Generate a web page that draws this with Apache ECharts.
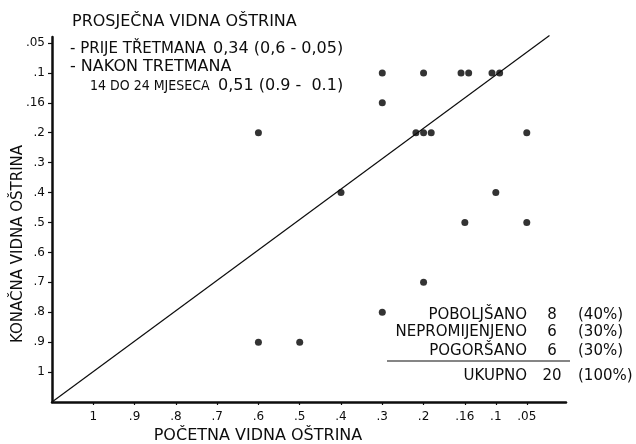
<!DOCTYPE html>
<html>
<head>
<meta charset="utf-8">
<script src="https://cdn.jsdelivr.net/npm/echarts@6/dist/echarts.min.js"></script>
<style>
html,body{margin:0;padding:0;background:#fff;}
#c{width:636px;height:444px;}
</style>
</head>
<body>
<div id="c"></div>
<script>
// Acuity tick labels (both axes run from best "1" to worst ".05")
const acuityLabels = ['1', '.9', '.8', '.7', '.6', '.5', '.4', '.3', '.2', '.16', '.1', '.05'];
// Scale position of each label along the (non-linear) axes, as drawn in the original
const xScalePos = [1, 2, 3, 4, 5, 6, 7, 8, 9, 10, 10.75, 11.5];
const yScalePos = [1, 2, 3, 4, 5, 6, 7, 8, 9, 10, 11, 12];

// Each patient: initial (POČETNA) and final (KONAČNA) visual acuity
const initialAcuity = ['.3', '.2', '.16', '.16', '.1', '.1', '.3', '.6', '.2', '.2', '.2', '.05', '.4', '.1', '.16', '.05', '.2', '.3', '.6', '.5'];
const finalAcuity   = ['.1', '.1', '.1',  '.1',  '.1', '.1', '.16', '.2', '.2', '.2', '.2', '.2', '.4', '.4', '.5', '.5', '.7', '.8', '.9', '.9'];

// Line of equality (drawn from origin to top right)
const diagonalEnd = [12.05, 12.25];

// Summary table
const outcomeLabels = ['POBOLJŠANO', 'NEPROMIJENJENO', 'POGORŠANO', 'UKUPNO'];
const outcomeCounts = ['8', '6', '6', '20'];
const outcomePct = ['(40%)', '(30%)', '(30%)', '(100%)'];

// Header text
const headerLines = [
  'PROSJEČNA VIDNA OŠTRINA',
  '- PRIJE TŘETMANA',
  '- NAKON TRETMANA',
  '14 DO 24 MJESECA'
];
const headerValues = ['0,34 (0,6 - 0,05)', '0,51 (0.9 -  0.1)'];
const xTitle = 'POČETNA VIDNA OŠTRINA';
const yTitle = 'KONAČNA VIDNA OŠTRINA';

// ---- build scatter points (identical points are spread side by side)
const xPosOf = l => xScalePos[acuityLabels.indexOf(l)];
const yPosOf = l => yScalePos[acuityLabels.indexOf(l)];
const groups = {};
initialAcuity.forEach((a, i) => {
  const k = a + '|' + finalAcuity[i];
  (groups[k] = groups[k] || []).push(i);
});
const points = [];
Object.keys(groups).forEach(k => {
  const idx = groups[k];
  const n = idx.length;
  idx.forEach((i, j) => {
    const off = (j - (n - 1) / 2) * 0.185;
    points.push([xPosOf(initialAcuity[i]) + off, yPosOf(finalAcuity[i])]);
  });
});

const FONT = '"DejaVu Sans", sans-serif';
const FONTC = '"DejaVu Sans Condensed", "DejaVu Sans", sans-serif';
const INK = '#0d0d0d';

const chart = echarts.init(document.getElementById('c'), null, {renderer: 'canvas'});

const txt = (text, x, y, font, align, extra) => Object.assign({
  type: 'text', x: x, y: y,
  style: {text: text, font: font, fill: INK, align: align || 'left', verticalAlign: 'middle'}
}, extra || {});

const graphics = [];
// header
graphics.push(txt(headerLines[0], 72, 22, '16px ' + FONT));
graphics.push(txt(headerLines[1], 70, 49, '15px ' + FONT));
graphics.push(txt(headerValues[0], 213, 49, '16px ' + FONT));
graphics.push(txt(headerLines[2], 70, 67, '16px ' + FONT));
graphics.push(txt(headerLines[3], 90, 86, '14px ' + FONTC));
graphics.push(txt(headerValues[1], 218, 86, '16px ' + FONT));
// axis titles
graphics.push(txt(xTitle, 258, 436, '16px ' + FONT, 'center'));
graphics.push(txt(yTitle, 18, 244, '15px ' + FONT, 'center', {rotation: Math.PI / 2}));

// summary table
const rowY = [315, 332, 351, 376];
outcomeLabels.forEach((lab, i) => {
  graphics.push(txt(lab, 527, rowY[i], '15px ' + FONT, 'right'));
  graphics.push(txt(outcomeCounts[i], 552, rowY[i], '15px ' + FONT, 'center'));
  graphics.push(txt(outcomePct[i], 578, rowY[i], '15px ' + FONT, 'left'));
});
graphics.push({type: 'line', shape: {x1: 387, y1: 361, x2: 570, y2: 361}, style: {stroke: INK, lineWidth: 1.2}});

const option = {
  backgroundColor: '#ffffff',
  animation: false,
  grid: {left: 52, top: 37, width: 514, height: 365, containLabel: false, outerBoundsMode: 'none'},
  xAxis: {
    type: 'value', min: 0, max: 12.45,
    axisLine: {show: true, onZero: false, lineStyle: {color: INK, width: 2.5}},
    axisTick: {show: true, customValues: xScalePos, length: 3, lineStyle: {color: INK, width: 1.2}},
    axisLabel: {customValues: xScalePos, margin: 9, fontFamily: FONT, fontSize: 12, color: INK,
      formatter: v => acuityLabels[xScalePos.indexOf(v)] || ''},
    splitLine: {show: false}
  },
  yAxis: {
    type: 'value', min: 0, max: 12.2,
    axisLine: {show: true, onZero: false, lineStyle: {color: INK, width: 2.5}},
    axisTick: {show: true, customValues: yScalePos, length: 4, lineStyle: {color: INK, width: 1.2}},
    axisLabel: {customValues: yScalePos, margin: 7, fontFamily: FONT, fontSize: 12, color: INK,
      formatter: v => acuityLabels[yScalePos.indexOf(v)] || ''},
    splitLine: {show: false}
  },
  series: [
    {
      type: 'line', data: [[0, 0], diagonalEnd], symbol: 'none', silent: true, clip: false,
      lineStyle: {color: INK, width: 1.2}
    },
    {
      type: 'scatter', data: points, symbol: 'circle', symbolSize: 7,
      itemStyle: {color: '#000'}
    }
  ],
  graphic: graphics
};
chart.setOption(option);
</script>
</body>
</html>
